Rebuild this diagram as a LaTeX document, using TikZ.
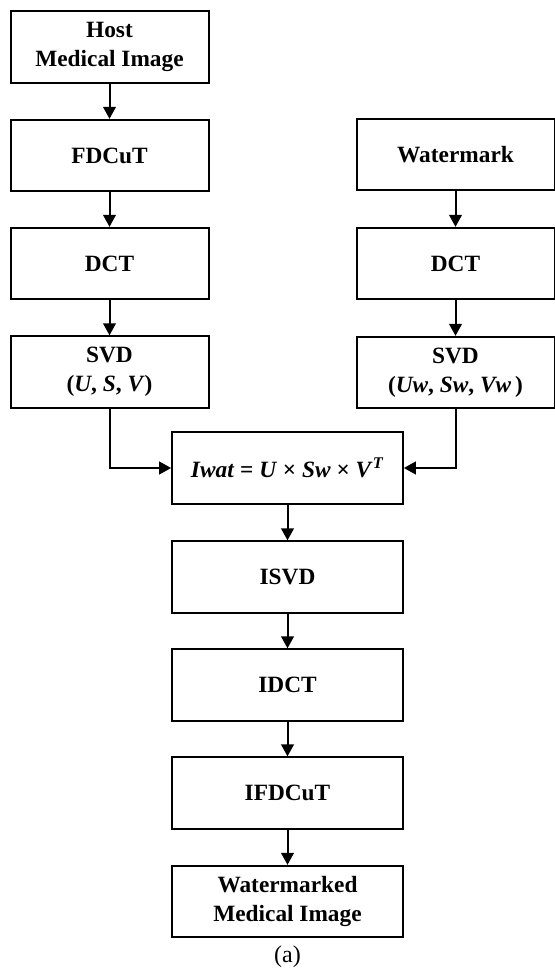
\documentclass[tikz,border=0pt]{standalone}
\usepackage{fontspec}
\setmainfont{Liberation Serif}
\usepackage{tikz}
\usetikzlibrary{arrows.meta}
\usetikzlibrary{positioning}
\tikzset{stage/.style={rectangle,draw=black,line width=1.5pt,fill=white,align=center,
  minimum height=53.5pt,inner sep=2pt,font=\fontsize{17.5}{21.5}\selectfont\bfseries}}
\tikzset{sidebox/.style={stage,minimum width=148.5pt}}
\tikzset{midbox/.style={stage,minimum width=173pt}}
\tikzset{flow/.style={line width=1.5pt,-{Triangle[length=9pt,width=9.5pt]}}}

\begin{document}
\begin{tikzpicture}[x=0.75pt,y=-0.75pt]
\useasboundingbox (0,0) rectangle (555,970);

\node[sidebox] (host) at (109.5, 47) {Host\\Medical Image};
\node[sidebox] (fdcut) at (109.5, 155.5) {FDCuT};
\node[sidebox] (dctL) at (109.5, 263.5) {DCT};
\node[sidebox] (svdL) at (109.5, 372) {SVD\\(\textit{U}, \textit{S}, \textit{V})};

\node[sidebox] (wm) at (455.5, 154.5) {Watermark};
\node[sidebox] (dctR) at (455.5, 263.5) {DCT};
\node[sidebox] (svdR) at (455.5, 372.5) {SVD\\(\textit{Uw}, \textit{Sw}, \textit{Vw}\,)};

\node[midbox] (iwat) at (287.5, 468) {\textit{Iwat} = \textit{U} × \textit{Sw} × \textit{V}\textsuperscript{\textit{T}}};
\node[midbox] (isvd) at (287.5, 577) {ISVD};
\node[midbox] (idct) at (287.5, 685) {IDCT};
\node[midbox] (ifdcut) at (287.5, 793) {IFDCuT};
\node[midbox] (out) at (287.5, 901.5) {Watermarked\\Medical Image};
\node[font=\fontsize{18}{21}\selectfont] (cap) at (287.5, 957) {(a)};

\draw[flow] (host) -- (fdcut);
\draw[flow] (fdcut) -- (dctL);
\draw[flow] (dctL) -- (svdL);
\draw[flow] (wm) -- (dctR);
\draw[flow] (dctR) -- (svdR);
\draw[flow] (svdL.south) |- (iwat.west);
\draw[flow] (svdR.south) |- (iwat.east);
\draw[flow] (iwat) -- (isvd);
\draw[flow] (isvd) -- (idct);
\draw[flow] (idct) -- (ifdcut);
\draw[flow] (ifdcut) -- (out);

\end{tikzpicture}
\end{document}
